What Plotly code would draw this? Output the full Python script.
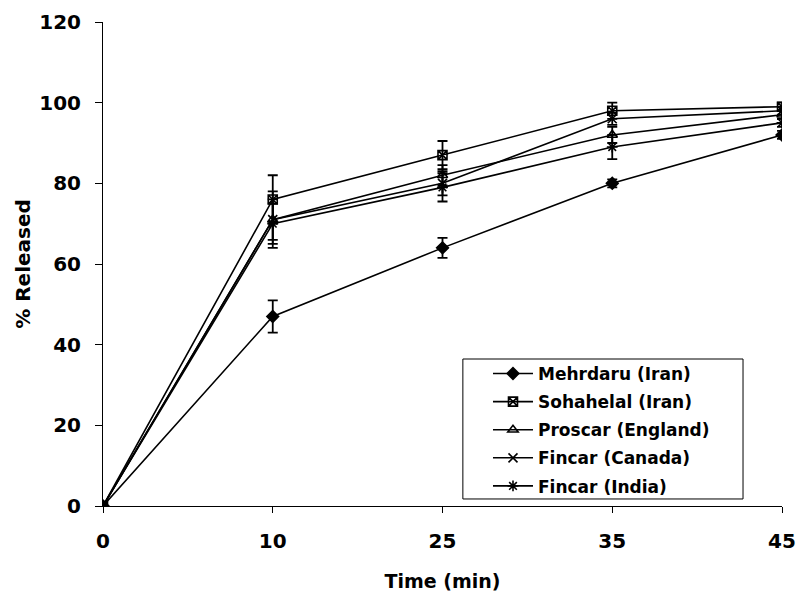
import plotly.graph_objects as go

times = ["0", "10", "25", "35", "45"]
series_names = ["Mehrdaru (Iran)", "Sohahelal (Iran)", "Proscar (England)", "Fincar (Canada)", "Fincar (India)"]
mehrdaru = [0, 47, 64, 80, 92]
sohahelal = [0, 76, 87, 98, 99]
proscar = [0, 71, 82, 92, 97]
fincar_canada = [0, 71, 80, 96, 98]
fincar_india = [0, 70, 79, 89, 95]
err_mehrdaru = [0, 4, 2.5, 1, 1]
err_sohahelal = [0, 6, 3.5, 2, 1]
err_proscar = [0, 5, 2.5, 2, 1]
err_fincar_canada = [0, 7, 3, 1.5, 1]
err_fincar_india = [0, 5, 3.5, 3, 1]
y_ticks = [0, 20, 40, 60, 80, 100, 120]

values = [mehrdaru, sohahelal, proscar, fincar_canada, fincar_india]
errors = [err_mehrdaru, err_sohahelal, err_proscar, err_fincar_canada, err_fincar_india]
symbols = ["diamond", "square-x-open", "triangle-up-open", "x-thin-open", "asterisk-open"]

fig = go.Figure()
for i, (name, v, e, s) in enumerate(zip(series_names, values, errors, symbols)):
    fig.add_trace(go.Scatter(
        x=times, y=v, name=name, mode="lines+markers", legendgroup=f"g{i}",
        line=dict(color="black", width=1.6),
        marker=dict(symbol=s, size=9, color="black", line=dict(color="black", width=1.6)),
        error_y=dict(type="data", array=e, visible=True, color="black", thickness=1.8, width=5),
    ))

# legend frame
fig.add_shape(type="rect", xref="paper", yref="paper",
              x0=0.530, x1=0.9426, y0=0.0145, y1=0.3037,
              line=dict(color="black", width=1), fillcolor="white", layer="above")

font = "DejaVu Sans, Liberation Sans, Arial, sans-serif"
fig.update_layout(
    width=797, height=594,
    margin=dict(l=103, r=15, t=22, b=88),
    paper_bgcolor="white", plot_bgcolor="white",
    font=dict(family=font, color="black"),
    showlegend=True,
    legend=dict(
        x=0.567, y=0.310, xanchor="left", yanchor="top",
        bgcolor="rgba(0,0,0,0)", borderwidth=0,
        font=dict(family=font, size=17, color="black", weight="bold"),
        tracegroupgap=3, itemwidth=40,
    ),
    xaxis=dict(
        type="category", range=[0, 4],
        showline=True, linecolor="black", linewidth=1,
        ticks="outside", ticklen=6, tickcolor="black", ticklabelstandoff=11,
        tickfont=dict(size=20, family=font, weight="bold"),
        title=dict(text="<b>Time (min)</b>", font=dict(size=19, family=font), standoff=22),
        showgrid=False, zeroline=False, automargin=False,
    ),
    yaxis=dict(
        range=[0, 120], tickvals=y_ticks,
        showline=True, linecolor="black", linewidth=1,
        ticks="outside", ticklen=7, tickcolor="black", ticklabelstandoff=10,
        tickfont=dict(size=20, family=font, weight="bold"),
        title=dict(text="<b>% Released</b>", font=dict(size=20, family=font), standoff=3),
        showgrid=False, zeroline=False, automargin=False,
    ),
)

fig.write_html("out.html", config={"displayModeBar": False},
               post_script="document.body.style.margin='0';")
